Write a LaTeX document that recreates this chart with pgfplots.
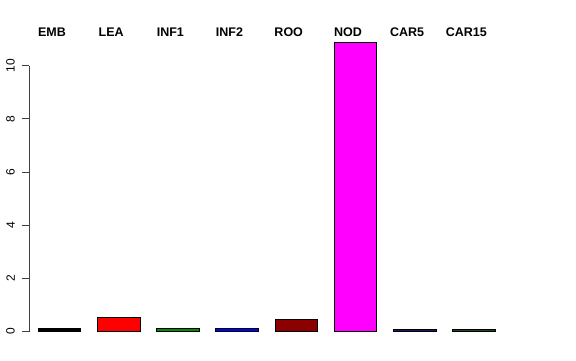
\documentclass[border=0pt]{standalone}
\usepackage{pgfplots}
\pgfplotsset{compat=1.18}
\usepackage{fontspec}
\setmainfont{Liberation Sans}
\definecolor{cINF}{HTML}{008B00}
\definecolor{cROO}{HTML}{8B0000}
\definecolor{cNOD}{HTML}{FF00FF}
\definecolor{cCARa}{HTML}{191970}
\definecolor{cCARb}{HTML}{1F4A1F}
\begin{document}
\begin{tikzpicture}
\path[use as bounding box] (-29pt,-28.5pt) rectangle (547pt,331.5pt);
\begin{axis}[
  at={(0pt,0pt)}, anchor=south west,
  scale only axis, width=515.9pt, height=266pt,
  xmin=0.486, xmax=9.2, ymin=0, ymax=10,
  clip=false,
  axis y line*=left, axis x line*=top,
  x axis line style={draw=none},
  y axis line style={-, line width=0.6pt, draw=black!75},
  ytick={0,2,4,6,8,10},
  tick align=outside,
  major tick length=7pt,
  ytick style={line width=0.6pt, draw=black!75},
  xtick style={draw=none},
  xtick={0.873,1.873,2.873,3.873,4.873,5.873,6.873,7.873},
  xticklabels={EMB,LEA,INF1,INF2,ROO,NOD,CAR5,CAR15},
  xticklabel style={font=\fontsize{12.5}{14}\selectfont\bfseries, anchor=base, yshift=22pt},
  yticklabel style={font=\fontsize{12}{14}\selectfont, rotate=90, anchor=south, inner sep=0pt, yshift=7pt},
  /pgf/number format/assume math mode=true,
  ybar, bar width=0.72, bar shift=0pt,
  every axis plot/.append style={draw=black, line width=0.8pt},
]
\addplot[fill=black] coordinates {(1,0.12)};
\addplot[fill=red] coordinates {(2,0.54)};
\addplot[fill=cINF] coordinates {(3,0.10)};
\addplot[fill=blue] coordinates {(4,0.10)};
\addplot[fill=cROO] coordinates {(5,0.46)};
\addplot[fill=cNOD] coordinates {(6,10.85)};
\addplot[fill=cCARa] coordinates {(7,0.08)};
\addplot[fill=cCARb] coordinates {(8,0.07)};
\end{axis}
\end{tikzpicture}
\end{document}
